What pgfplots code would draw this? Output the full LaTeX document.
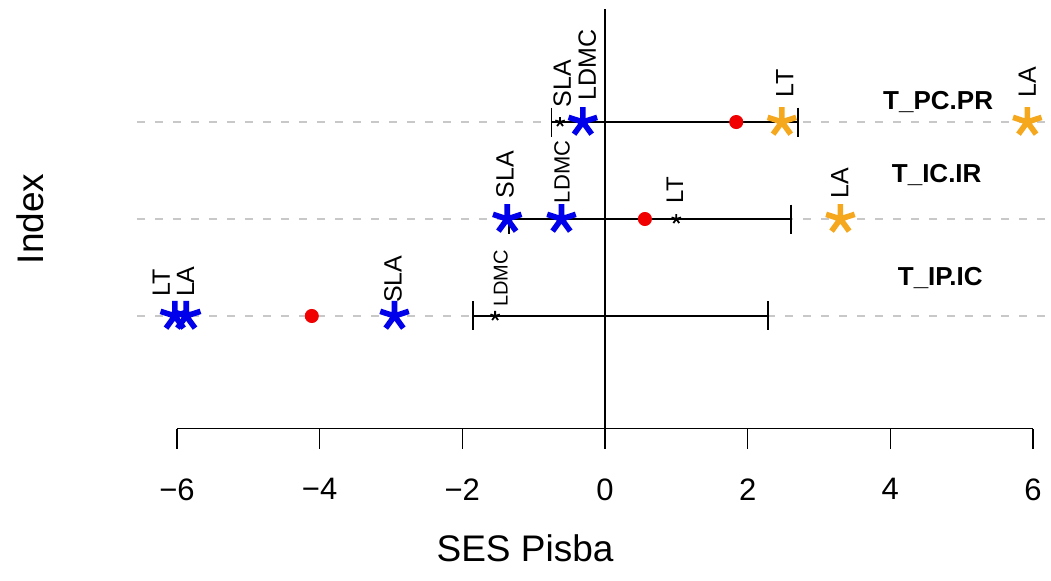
\documentclass[border=0pt]{standalone}
\usepackage{fontspec}
\setmainfont{Liberation Sans}
\usepackage{pgfplots}
\pgfplotsset{compat=1.18}
\definecolor{rorange}{RGB}{245,168,30}
\definecolor{rblue}{RGB}{0,0,235}
\definecolor{rred}{RGB}{240,0,0}
\definecolor{dashgray}{RGB}{200,200,200}
\newcommand{\lab}[5]{\node[rotate=90, anchor=west, inner sep=0pt, outer xsep=#3, outer ysep=0pt, font=\fontsize{#5}{#5}\selectfont] at (axis cs:#1,#2) {#4};}
\begin{document}
\begin{tikzpicture}
\path[use as bounding box] (0,0) rectangle (525.5pt,290pt);
\begin{axis}[
  at={(68.5pt,75.75pt)}, anchor=south west,
  scale only axis, width=455.5pt, height=209.5pt,
  xmin=-6.56, xmax=6.21, ymin=-0.16, ymax=4.16,
  clip=false,
  axis x line*=bottom, axis y line*=left,
  x axis line style={draw=none}, y axis line style={draw=none},
  xtick={-6,-4,-2,0,2,4,6},
  xticklabels={−6,−4,−2,0,2,4,6},
  ytick=\empty,
  tick align=outside, major tick length=10pt,
  x tick style={black, line width=0.7pt},
  xticklabel style={font=\fontsize{15.5}{15.5}\selectfont, yshift=-11.5pt},
  xlabel={SES Pisba}, ylabel={Index},
  label style={font=\fontsize{18.5}{18.5}\selectfont},
  xlabel style={at={(rel axis cs:0.426,-0.285)}, anchor=center},
  ylabel style={at={(rel axis cs:-0.1175,0.5)}, anchor=center},
]
% dashed reference lines
\addplot[dashgray, line width=0.6pt, dash pattern=on 4pt off 5pt] coordinates {(-6.56,1) (6.21,1)};
\addplot[dashgray, line width=0.6pt, dash pattern=on 4pt off 5pt] coordinates {(-6.56,2) (6.21,2)};
\addplot[dashgray, line width=0.6pt, dash pattern=on 4pt off 5pt] coordinates {(-6.56,3) (6.21,3)};
% zero line and x axis line
\addplot[black, line width=0.8pt] coordinates {(0,-0.16) (0,4.16)};
\addplot[black, line width=0.8pt] coordinates {(-6,-0.16) (6,-0.16)};
% intervals
\addplot[black, line width=0.9pt, mark=|, mark size=7.25pt] coordinates {(-0.75,3) (2.71,3)};
\addplot[black, line width=0.9pt, mark=|, mark size=7.25pt] coordinates {(-1.35,2) (2.61,2)};
\addplot[black, line width=0.9pt, mark=|, mark size=7.25pt] coordinates {(-1.85,1) (2.29,1)};
% small black stars
\addplot[only marks, black, mark=star, mark size=2.5pt, line width=0.9pt] coordinates {(-0.63,3) (1.0,2) (-1.54,1)};
% red dots
\addplot[only marks, mark=*, mark size=3.3pt, rred, mark options={fill=rred, draw=rred}] coordinates {(1.84,3) (0.56,2) (-4.11,1)};
% blue stars
\addplot[only marks, rblue, mark=star, mark size=7.5pt, line width=2.8pt] coordinates {(-0.31,3) (-1.37,2) (-0.61,2) (-6.03,1) (-5.87,1) (-2.95,1)};
% orange stars
\addplot[only marks, rorange, mark=star, mark size=7.5pt, line width=2.8pt] coordinates {(2.48,3) (5.92,3) (3.30,2)};
% point labels
\lab{-0.60}{3}{7.5pt}{SLA}{12.5}
\lab{-0.25}{3}{11pt}{LDMC}{12.5}
\lab{2.52}{3}{12.5pt}{LT}{12.5}
\lab{5.92}{3}{12.5pt}{LA}{12.5}
\lab{-1.40}{2}{10.5pt}{SLA}{12.5}
\lab{-0.60}{2}{8pt}{LDMC}{11}
\lab{0.98}{2}{8pt}{LT}{12}
\lab{3.29}{2}{10.5pt}{LA}{12.5}
\lab{-6.22}{1}{9.5pt}{LT}{12.5}
\lab{-5.88}{1}{9.5pt}{LA}{12.5}
\lab{-2.97}{1}{6.5pt}{SLA}{12.5}
\lab{-1.46}{1}{4.5pt}{LDMC}{10}
% comparison names
\node[font=\bfseries\fontsize{13}{13}\selectfont] at (axis cs:4.67,3.206) {T\_PC.PR};
\node[font=\bfseries\fontsize{13}{13}\selectfont] at (axis cs:4.65,2.454) {T\_IC.IR};
\node[font=\bfseries\fontsize{13}{13}\selectfont] at (axis cs:4.70,1.392) {T\_IP.IC};
\end{axis}
\end{tikzpicture}
\end{document}
